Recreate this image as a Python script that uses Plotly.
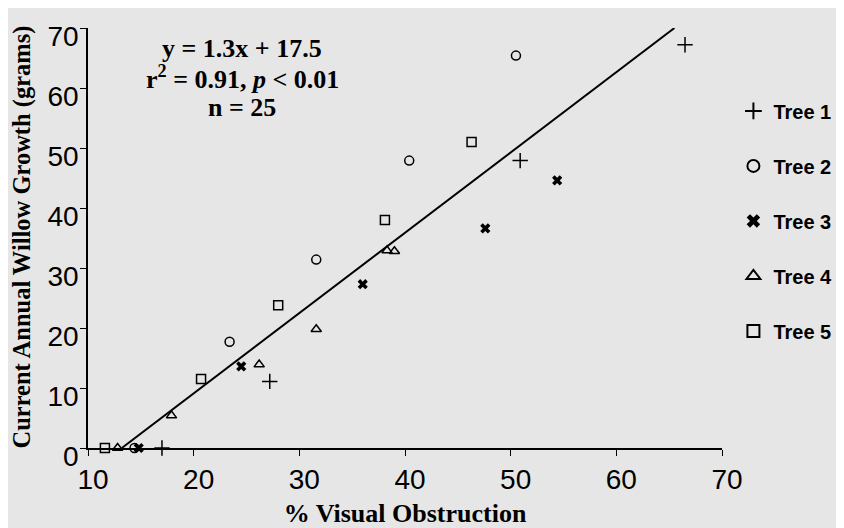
import plotly.graph_objects as go

# ---- data ----
tree1_x = [66.5, 50.9, 27.2, 17.0]
tree1_y = [67.2, 47.9, 11.1, 0.0]

tree2_x = [50.5, 40.4, 31.6, 23.4, 14.4]
tree2_y = [65.4, 47.9, 31.4, 17.7, 0.0]

tree3_x = [54.4, 47.6, 36.0, 24.5, 14.8]
tree3_y = [44.6, 36.6, 27.3, 13.6, 0.0]

tree4_x = [39.0, 38.3, 31.6, 26.2, 17.9, 12.8]
tree4_y = [32.8, 32.9, 19.8, 13.9, 5.4, 0.0]

tree5_x = [46.3, 38.1, 28.0, 20.7, 11.6]
tree5_y = [51.0, 38.0, 23.8, 11.5, 0.0]

fit_x = [13.2, 65.5]
fit_y = [0.0, 70.0]

x_ticks = [10, 20, 30, 40, 50, 60, 70]
y_ticks = [0, 10, 20, 30, 40, 50, 60, 70]

stats_lines = ["y = 1.3x + 17.5", "r<sup>2</sup> = 0.91, <i>p</i> < 0.01", "n = 25"]

trees = [
    ("<b>Tree 1</b>", tree1_x, tree1_y, "cross-thin-open", 11, 1.5),
    ("<b>Tree 2</b>", tree2_x, tree2_y, "circle-open", 9, 1.5),
    ("<b>Tree 3</b>", tree3_x, tree3_y, "x", 9, 0),
    ("<b>Tree 4</b>", tree4_x, tree4_y, "triangle-up-open", 9, 1.5),
    ("<b>Tree 5</b>", tree5_x, tree5_y, "square-open", 9, 1.5),
]

BG = "#e6e6e6"
SERIF = "Liberation Serif, Times New Roman, serif"
SANS = "Liberation Sans, Arial, sans-serif"

# page body adds an 8px offset; plot area on screen: x 88..722, y 28..448
PX0, PY0, PW, PH = 80, 20, 634, 420

fig = go.Figure()

fig.add_trace(go.Scatter(x=fit_x, y=fit_y, mode="lines",
                         line=dict(color="black", width=2),
                         showlegend=False, cliponaxis=False))

for i, (name, xs, ys, sym, sz, lw) in enumerate(trees):
    fig.add_trace(go.Scatter(
        x=xs, y=ys, mode="markers", name=name,
        legendgroup=f"g{i}",
        marker=dict(symbol=sym, size=sz, color="black",
                    line=dict(color="black", width=lw)),
        cliponaxis=False,
    ))

stat_centres = [48, 77, 107]   # screen px
for t, yc in zip(stats_lines, stat_centres):
    fig.add_annotation(
        x=(242 - 88) / PW, y=(448 - yc) / PH, xref="paper", yref="paper",
        text="<b>" + t + "</b>", showarrow=False, xanchor="center", yanchor="middle",
        font=dict(family=SERIF, size=26, color="black"),
    )

fig.add_annotation(
    x=(21 - 88) / PW, y=(448 - 451) / PH, xref="paper", yref="paper",
    text="<b>Current Annual Willow Growth (grams)</b>", textangle=-90,
    showarrow=False, xanchor="center", yanchor="bottom",
    font=dict(family=SERIF, size=24.5, color="black"),
)

fig.update_layout(
    width=844, height=528,
    margin=dict(l=PX0, r=844 - PX0 - PW, t=PY0, b=528 - PY0 - PH),
    paper_bgcolor=BG, plot_bgcolor=BG,
    showlegend=True,
    legend=dict(
        x=1.018, xanchor="left", y=0.849, yanchor="top",
        bgcolor="rgba(0,0,0,0)",
        font=dict(family=SANS, size=20, color="black"),
        tracegroupgap=26, itemsizing="constant", itemwidth=30,
    ),
    xaxis=dict(
        range=[10, 70], tickvals=x_ticks, showgrid=False, zeroline=False,
        showline=True, linecolor="black", linewidth=1.5, automargin=False,
        ticks="outside", ticklen=6, tickwidth=1.2, tickcolor="black",
        tickfont=dict(family=SANS, size=28, color="black"),
        ticklabelshift=5,
        title=dict(text="<b>% Visual Obstruction</b>", standoff=9,
                   font=dict(family=SERIF, size=26, color="black")),
    ),
    yaxis=dict(
        range=[0, 70], tickvals=y_ticks, showgrid=False, zeroline=False,
        showline=True, linecolor="black", linewidth=1.5, automargin=False,
        ticks="outside", ticklen=6, tickwidth=1.2, tickcolor="black",
        tickfont=dict(family=SANS, size=28, color="black"),
        ticklabelshift=8, ticklabelstandoff=-4,
    ),
)

fig.write_html("out.html")
